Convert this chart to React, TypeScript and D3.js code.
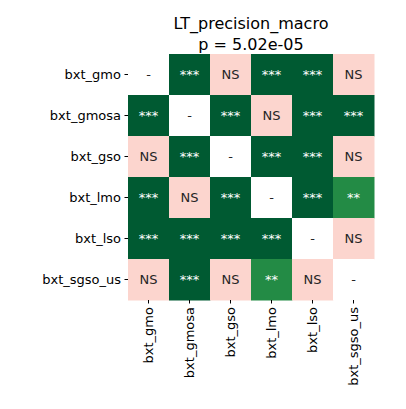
import React from 'react';
import * as d3 from 'd3';

const labels = ['bxt_gmo', 'bxt_gmosa', 'bxt_gso', 'bxt_lmo', 'bxt_lso', 'bxt_sgso_us'];
const cells: string[][] = [
  ['-', '***', 'NS', '***', '***', 'NS'],
  ['***', '-', '***', 'NS', '***', '***'],
  ['NS', '***', '-', '***', '***', 'NS'],
  ['***', 'NS', '***', '-', '***', '**'],
  ['***', '***', '***', '***', '-', 'NS'],
  ['NS', '***', 'NS', '**', 'NS', '-'],
];
const fills: Record<string, string> = { '***': '#005a32', '**': '#238b45', NS: '#fcd5ce', '-': '#ffffff' };

export default function App() {
  const x = d3.scaleBand().domain(labels).range([128, 374]);
  const y = d3.scaleBand().domain(labels).range([54, 300]);
  const font = 'DejaVu Sans, sans-serif';
  return (
    <svg width={406} height={409} style={{ position: 'absolute', left: 0, top: 0 }} fontFamily={font}>
      <rect width={406} height={409} fill="#fff" />
      <text x={251} y={29} textAnchor="middle" fontSize={16}>LT_precision_macro</text>
      <text x={251} y={50} textAnchor="middle" fontSize={16}>p = 5.02e-05</text>
      {cells.map((row, i) =>
        row.map((v, j) => (
          <g key={`${i}-${j}`}>
            <rect x={x(labels[j])} y={y(labels[i])} width={x.bandwidth() + 0.5} height={y.bandwidth() + 0.5} fill={fills[v]} />
            <text x={x(labels[j])! + x.bandwidth() / 2} y={y(labels[i])! + y.bandwidth() / 2} dy="0.35em"
              textAnchor="middle" fontSize={13} fill={v === '***' || v === '**' ? '#fff' : '#262626'}>{v}</text>
          </g>
        ))
      )}
      {labels.map(l => (
        <g key={'r' + l}>
          <line x1={124.5} x2={128} y1={y(l)! + y.bandwidth() / 2} y2={y(l)! + y.bandwidth() / 2} stroke="#000" />
          <text x={121} y={y(l)! + y.bandwidth() / 2} dy="0.35em" textAnchor="end" fontSize={13}>{l}</text>
        </g>
      ))}
      {labels.map(l => {
        const cx = x(l)! + x.bandwidth() / 2;
        return (
          <g key={'c' + l}>
            <line x1={cx} x2={cx} y1={300} y2={303.5} stroke="#000" />
            <text transform={`translate(${cx},307) rotate(-90)`} dy="0.35em" textAnchor="end" fontSize={13}>{l}</text>
          </g>
        );
      })}
    </svg>
  );
}
